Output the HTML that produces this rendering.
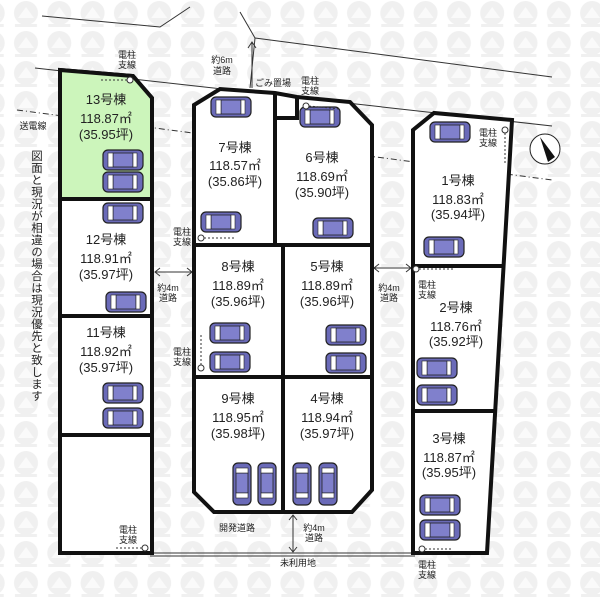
<!DOCTYPE html>
<html><head><meta charset="utf-8"><style>
html,body{margin:0;padding:0;background:#fff}
svg{display:block}
text{font-family:"Liberation Sans","Noto Sans CJK JP",sans-serif;fill:#222}
</style></head><body>
<svg width="600" height="600" viewBox="0 0 600 600" xmlns="http://www.w3.org/2000/svg">
<defs>
<pattern id="wm" x="10" y="0" width="33.3" height="30" patternUnits="userSpaceOnUse">
<circle cx="16" cy="13" r="12" fill="#f0f0f0"/>
<path d="M8 18 L16 7 L24 18 Z" fill="#fafafa"/>
<rect x="5" y="24" width="22" height="3" fill="#f0f0f0"/>
</pattern>
<g id="car">
<rect x="0" y="0" width="40" height="20" rx="5" fill="#6a6ab8" stroke="#222" stroke-width="1.2"/>
<rect x="10" y="3" width="20" height="14" fill="#8080cc" stroke="#222" stroke-width="0.8"/>
<rect x="5" y="3" width="5" height="14" fill="#fff" stroke="#222" stroke-width="0.6"/>
<rect x="30" y="3" width="4" height="14" fill="#fff" stroke="#222" stroke-width="0.6"/>
</g>
<g id="vcar">
<rect x="0" y="0" width="18" height="42" rx="5" fill="#6a6ab8" stroke="#222" stroke-width="1.2"/>
<rect x="3" y="10" width="12" height="20" fill="#8080cc" stroke="#222" stroke-width="0.8"/>
<rect x="3" y="5" width="12" height="5" fill="#fff" stroke="#222" stroke-width="0.6"/>
<rect x="3" y="30" width="12" height="5" fill="#fff" stroke="#222" stroke-width="0.6"/>
</g>
</defs>
<rect width="600" height="600" fill="url(#wm)"/>

<!-- road lines -->
<g stroke="#333" stroke-width="1" fill="none">
<polyline points="42,16 160,27 190,7"/>
<polyline points="240,12 255,38 250,88"/>
<line x1="255" y1="38" x2="552" y2="77"/>
<line x1="35" y1="68" x2="552" y2="126"/>
<line x1="17" y1="110" x2="552" y2="180" stroke-dasharray="6,3,1,3"/>
<line x1="150" y1="553" x2="415" y2="553"/>
<line x1="150" y1="556" x2="415" y2="556"/>
</g>
<!-- arrows -->
<g stroke="#333" stroke-width="1" fill="none">
<line x1="252" y1="42" x2="252" y2="88"/><polyline points="248,48 252,42 256,48"/>
<line x1="155" y1="272" x2="192" y2="272"/><polyline points="160,268 155,272 160,276"/><polyline points="187,268 192,272 187,276"/>
<line x1="374" y1="268" x2="411" y2="268"/><polyline points="379,264 374,268 379,272"/><polyline points="406,264 411,268 406,272"/>
<line x1="293" y1="515" x2="293" y2="552"/><polyline points="289,520 293,515 297,520"/><polyline points="289,547 293,552 297,547"/>
</g>

<!-- lots -->
<g stroke="#111" stroke-width="4" fill="#fff" stroke-linejoin="miter">
<polygon points="60,70 133,76 152,98 152,553 60,553"/>
<polygon points="60,70 133,76 152,98 152,199 60,199" fill="#ccf5bb"/>
<line x1="60" y1="199" x2="152" y2="199"/>
<line x1="60" y1="316" x2="152" y2="316"/>
<line x1="60" y1="435" x2="152" y2="435"/>
<polygon points="194,105 220,89 275,93 297,97 350,102 372,125 372,490 352,512 214,512 194,492"/>
<polyline points="275,93 275,118 297,118 297,97" fill="none"/>
<line x1="275" y1="118" x2="275" y2="245"/>
<line x1="194" y1="245" x2="372" y2="245"/>
<line x1="283" y1="245" x2="283" y2="512"/>
<line x1="194" y1="377" x2="372" y2="377"/>
<polygon points="413,130 434,113 512,120 487,553 413,553"/>
<line x1="413" y1="266" x2="503" y2="266"/>
<line x1="413" y1="411" x2="495" y2="411"/>
</g>

<!-- cars -->
<use href="#car" x="103" y="150"/><use href="#car" x="103" y="172"/>
<use href="#car" x="103" y="203"/><use href="#car" x="106" y="292"/>
<use href="#car" x="103" y="383"/><use href="#car" x="103" y="408"/>
<use href="#car" x="211" y="97"/><use href="#car" x="201" y="212"/>
<use href="#car" x="300" y="107"/><use href="#car" x="313" y="218"/>
<use href="#car" x="210" y="323"/><use href="#car" x="210" y="352"/>
<use href="#car" x="326" y="325"/><use href="#car" x="326" y="353"/>
<use href="#vcar" x="233" y="463"/><use href="#vcar" x="258" y="463"/>
<use href="#vcar" x="293" y="463"/><use href="#vcar" x="319" y="463"/>
<use href="#car" x="430" y="122"/><use href="#car" x="424" y="237"/>
<use href="#car" x="417" y="358"/><use href="#car" x="417" y="385"/>
<use href="#car" x="420" y="495"/><use href="#car" x="420" y="520"/>

<!-- poles -->
<g stroke="#333" fill="#fff" stroke-width="1">
<circle cx="130" cy="80" r="3"/><circle cx="306" cy="106" r="3"/><circle cx="505" cy="130" r="3"/>
<circle cx="201" cy="238" r="3"/><circle cx="201" cy="368" r="3"/><circle cx="416" cy="269" r="3"/>
<circle cx="145" cy="548" r="3"/><circle cx="422" cy="549" r="3"/>
</g>
<g stroke="#333" fill="none" stroke-width="1" stroke-dasharray="2,2">
<line x1="127" y1="80" x2="100" y2="80"/><line x1="204" y1="238" x2="236" y2="238"/>
<line x1="201" y1="365" x2="201" y2="335"/><line x1="419" y1="269" x2="455" y2="269"/>
<line x1="142" y1="548" x2="115" y2="548"/><line x1="425" y1="549" x2="453" y2="549"/>
<line x1="505" y1="133" x2="505" y2="163"/><line x1="309" y1="106" x2="340" y2="109"/>
</g>

<!-- compass -->
<circle cx="545" cy="149" r="15" fill="#fff" stroke="#222" stroke-width="1"/>
<polygon points="540,137 548,162 555,157" fill="#111"/>

<!-- labels -->
<g font-size="13" text-anchor="middle">
<text x="106" y="104">13号棟</text><text x="106" y="123">118.87㎡</text><text x="106" y="139">(35.95坪)</text>
<text x="106" y="244">12号棟</text><text x="106" y="263">118.91㎡</text><text x="106" y="279">(35.97坪)</text>
<text x="106" y="337">11号棟</text><text x="106" y="356">118.92㎡</text><text x="106" y="372">(35.97坪)</text>
<text x="235" y="152">7号棟</text><text x="235" y="170">118.57㎡</text><text x="235" y="186">(35.86坪)</text>
<text x="322" y="162">6号棟</text><text x="322" y="181">118.69㎡</text><text x="322" y="197">(35.90坪)</text>
<text x="238" y="271">8号棟</text><text x="238" y="290">118.89㎡</text><text x="238" y="306">(35.96坪)</text>
<text x="327" y="271">5号棟</text><text x="327" y="290">118.89㎡</text><text x="327" y="306">(35.96坪)</text>
<text x="238" y="403">9号棟</text><text x="238" y="422">118.95㎡</text><text x="238" y="438">(35.98坪)</text>
<text x="327" y="403">4号棟</text><text x="327" y="422">118.94㎡</text><text x="327" y="438">(35.97坪)</text>
<text x="458" y="185">1号棟</text><text x="458" y="204">118.83㎡</text><text x="458" y="219">(35.94坪)</text>
<text x="456" y="312">2号棟</text><text x="456" y="331">118.76㎡</text><text x="456" y="346">(35.92坪)</text>
<text x="449" y="443">3号棟</text><text x="449" y="462">118.87㎡</text><text x="449" y="477">(35.95坪)</text>
</g>
<g font-size="9" text-anchor="middle">
<text x="127" y="58">電柱</text><text x="127" y="68">支線</text>
<text x="310" y="84">電柱</text><text x="310" y="94">支線</text>
<text x="488" y="136">電柱</text><text x="488" y="146">支線</text>
<text x="182" y="235">電柱</text><text x="182" y="245">支線</text>
<text x="182" y="355">電柱</text><text x="182" y="365">支線</text>
<text x="128" y="533">電柱</text><text x="128" y="543">支線</text>
<text x="427" y="568">電柱</text><text x="427" y="578">支線</text>
<text x="427" y="288">電柱</text><text x="427" y="298">支線</text>
<text x="222" y="63">約6m</text><text x="222" y="74">道路</text>
<text x="168" y="291">約4m</text><text x="168" y="301">道路</text>
<text x="389" y="291">約4m</text><text x="389" y="301">道路</text>
<text x="314" y="531">約4m</text><text x="314" y="541">道路</text>
<text x="273" y="86">ごみ置場</text>
<text x="33" y="129">送電線</text>
<text x="237" y="531">開発道路</text>
<text x="298" y="566">未利用地</text>
</g>
<text x="36" y="150" font-size="11.5" style="writing-mode:vertical-rl" letter-spacing="0.5">図面と現況が相違の場合は現況優先と致します</text>
</svg>
</body></html>
